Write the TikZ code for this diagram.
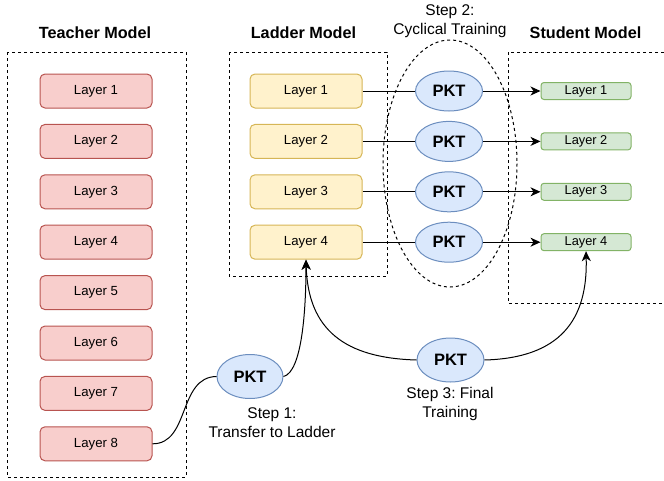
\documentclass[tikz,border=0pt]{standalone}
\usepackage{fontspec}
\setmainfont{Liberation Sans}
\usetikzlibrary{arrows.meta,shapes.geometric}
\definecolor{redfill}{HTML}{F8CECC}\definecolor{redline}{HTML}{B85450}
\definecolor{yelfill}{HTML}{FFF2CC}\definecolor{yelline}{HTML}{D6B656}
\definecolor{grnfill}{HTML}{D5E8D4}\definecolor{grnline}{HTML}{82B366}
\definecolor{blufill}{HTML}{DAE8FC}\definecolor{bluline}{HTML}{6C8EBF}
\frenchspacing
\begin{document}
\begin{tikzpicture}[x=1pt,y=-1pt,line width=1pt,
  layerbox/.style={rounded corners=5pt,minimum width=112pt,minimum height=34pt,inner sep=0pt,font=\fontsize{13.2}{15}\selectfont},
  teacher/.style={layerbox,draw=redline,fill=redfill},
  ladder/.style={layerbox,draw=yelline,fill=yelfill},
  student/.style={layerbox,rounded corners=3pt,minimum width=90pt,minimum height=17pt,draw=grnline,fill=grnfill,font=\fontsize{12.8}{14}\selectfont},
  pkt/.style={ellipse,draw=bluline,fill=blufill,minimum width=67pt,minimum height=40pt,inner sep=0pt,font=\bfseries\fontsize{16.5}{18}\selectfont},
  title/.style={font=\bfseries\fontsize{16.2}{18}\selectfont},
  steplabel/.style={align=center,font=\fontsize{15.5}{19}\selectfont\frenchspacing},
  dashbox/.style={draw,dash pattern=on 3pt off 3pt,line width=1pt},
  conn/.style={draw,line width=1pt},
  arr/.style={conn,-{Stealth[length=10pt,width=9pt,inset=3pt]}}
]
\useasboundingbox (0,0) rectangle (664,480);
\clip (0,0) rectangle (664,480);
% containers
\draw[dashbox] (7,52) rectangle (186,477);
\draw[dashbox] (229,52) rectangle (387,276);
\draw[dashbox] (508,52) rectangle (680,303);
\draw[dashbox] (450,163.5) ellipse [x radius=67, y radius=123.5];
% titles
\node[title] (tt) at (95,33) {Teacher Model};
\node[title] (lt) at (303.5,33) {Ladder Model};
\node[title] (st) at (585.5,33) {Student Model};
\node[steplabel] (s2) at (450,21.5) {Step 2:\\Cyclical Training};
% teacher layers
\foreach \i in {1,...,8}{
  \node[teacher] (t\i) at (96,{91+50.4*(\i-1)}) {Layer \i};
}
% ladder layers, PKTs, student layers
\foreach \i in {1,...,4}{
  \node[ladder] (l\i) at (306,{91+50.4*(\i-1)}) {Layer \i};
  \node[pkt] (p\i) at (449,{91+50.4*(\i-1)}) {PKT};
  \node[student] (s\i) at (586,{91+50.4*(\i-1)}) {Layer \i};
  \draw[conn] (l\i.east) -- (p\i.west);
  \draw[arr] (p\i.east) -- (s\i.west);
}
% step 1
\node[pkt,minimum height=44pt,minimum width=66pt] (pa) at (250,376.5) {PKT};
\node[steplabel] (s1) at (272,422.5) {Step 1:\\Transfer to Ladder};
\draw[conn] (t8.east) .. controls (190,444) and (178,377) .. (pa.west);
\draw[arr] (pa.east) .. controls (302,372) and (306,310) .. (l4.south);
% step 3
\node[pkt,minimum height=44pt] (pb) at (450.5,360) {PKT};
\node[steplabel] (s3) at (450,404) {Step 3: Final\\Training};
\draw[arr] (pb.west) .. controls (345,358) and (308,330) .. (l4.south);
\draw[arr] (pb.east) .. controls (560,358) and (588,320) .. (s4.south);
\end{tikzpicture}
\end{document}
